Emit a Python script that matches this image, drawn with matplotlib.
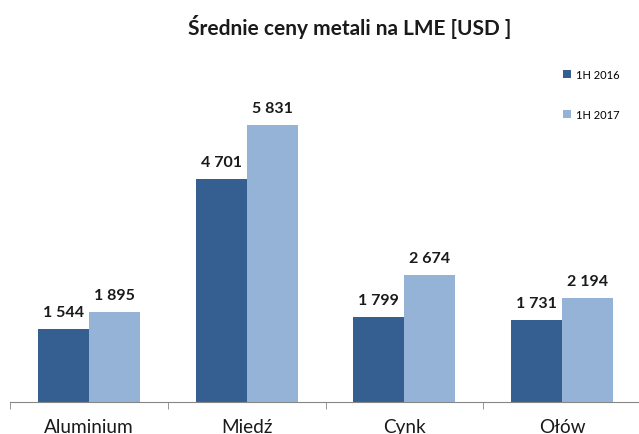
import matplotlib
matplotlib.use("Agg")
import matplotlib.pyplot as plt
import numpy as np

plt.rcParams['font.family'] = ['Lato', 'DejaVu Sans']

categories = ["Aluminium", "Miedź", "Cynk", "Ołów"]
series_names = ["1H 2016", "1H 2017"]
values_2016 = [1544, 4701, 1799, 1731]
values_2017 = [1895, 5831, 2674, 2194]
colors = ["#365F91", "#95B3D7"]

def fmt(v):
    return f"{v:,}".replace(",", " ")

fig = plt.figure(figsize=(6.39, 4.35), dpi=100)
ax = fig.add_axes([10/639, 32/435, 631/639, 0.77])

x = np.arange(len(categories))
w = 0.324
b1 = ax.bar(x - w/2, values_2016, w, color=colors[0], label=series_names[0])
b2 = ax.bar(x + w/2, values_2017, w, color=colors[1], label=series_names[1])

for bars, vals in ((b1, values_2016), (b2, values_2017)):
    for r, v in zip(bars, vals):
        ax.annotate(fmt(v), (r.get_x() + r.get_width()/2, v), xytext=(0, 7),
                    textcoords="offset points", ha="center", va="bottom",
                    fontsize=11.5, fontweight="bold", color="#1a1a1a")

ax.set_xlim(-0.5, len(categories) - 0.5)
ax.set_ylim(0, 7050)
ax.set_yticks([])
for s in ("left", "right", "top"):
    ax.spines[s].set_visible(False)
ax.spines["bottom"].set_color("#868686")
ax.set_xticks(x)
ax.set_xticklabels(categories, fontsize=13.7, color="#1a1a1a")
ax.tick_params(axis="x", which="major", length=0, pad=11.5)
ax.set_xticks(np.arange(-0.5, len(categories)), minor=True)
ax.tick_params(axis="x", which="minor", length=5, color="#868686")

fig.text(350/639, 0.937, "Średnie ceny metali na LME [USD ]", ha="center", va="center",
         fontsize=15, fontweight="bold", color="#1a1a1a")

leg = ax.legend(loc="upper left", bbox_to_anchor=(0.861, 1.025), frameon=False,
                fontsize=8, handlelength=0.7, handleheight=0.7, labelspacing=2.65,
                handletextpad=0.4)

fig.savefig("out.png", dpi=100)
